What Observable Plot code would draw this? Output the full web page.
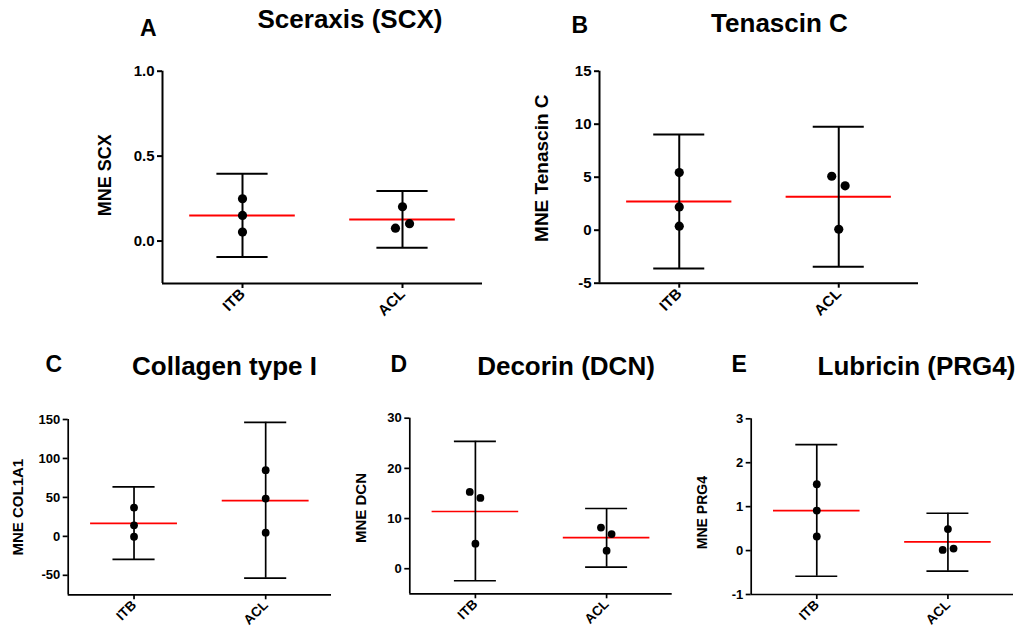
<!DOCTYPE html>
<html><head><meta charset="utf-8">
<script src="https://cdn.jsdelivr.net/npm/d3@7"></script>
<script src="https://cdn.jsdelivr.net/npm/@observablehq/plot@0.6"></script>
<style>
body{margin:0;background:#fff;}
#root{position:relative;width:1025px;height:628px;overflow:hidden;font-family:"Liberation Sans",Arial,sans-serif;}
.lab{position:absolute;font-weight:bold;line-height:1;white-space:nowrap;color:#000;}
.ttl{position:absolute;font-weight:bold;line-height:1;white-space:nowrap;color:#000;width:400px;text-align:center;font-size:26px;}
.panel{position:absolute;}
</style></head><body><div id="root"></div>
<script>
// ---------- data ----------
const groups = ["ITB", "ACL"];
const groupPos = [1, 2];

// A: Sceraxis (SCX)
const scxITB = [0.249, 0.151, 0.053];
const scxACL = [0.202, 0.076, 0.102];
const scxJitITB = [0, 0, 0];
const scxJitACL = [0, -0.044, 0.044];
const scxMean = [0.151, 0.127];
const scxLow = [-0.094, -0.039];
const scxHigh = [0.396, 0.294];
const scxTicks = [0, 0.5, 1.0];

// B: Tenascin C
const tncITB = [5.44, 2.2, 0.38];
const tncACL = [5.09, 4.19, 0.09];
const tncJitITB = [0, 0, 0];
const tncJitACL = [-0.044, 0.04, 0];
const tncMean = [2.7, 3.15];
const tncLow = [-3.61, -3.45];
const tncHigh = [9.03, 9.75];
const tncTicks = [-5, 0, 5, 10, 15];

// C: Collagen type I
const colITB = [36.9, 14.2, -0.5];
const colACL = [85, 48.5, 4.7];
const colJitITB = [0, 0, 0];
const colJitACL = [0, 0, 0];
const colMean = [16.8, 45.9];
const colLow = [-29.6, -53.7];
const colHigh = [63.5, 146.4];
const colTicks = [-50, 0, 50, 100, 150];

// D: Decorin (DCN)
const dcnITB = [15.3, 14.1, 5.0];
const dcnACL = [8.2, 6.9, 3.6];
const dcnJitITB = [-0.043, 0.038, 0];
const dcnJitACL = [-0.043, 0.038, 0];
const dcnMean = [11.4, 6.2];
const dcnLow = [-2.4, 0.3];
const dcnHigh = [25.4, 12.0];
const dcnTicks = [0, 10, 20, 30];

// E: Lubricin (PRG4)
const prgITB = [1.51, 0.91, 0.32];
const prgACL = [0.49, 0.015, 0.045];
const prgJitITB = [0, 0, 0];
const prgJitACL = [0, -0.04, 0.043];
const prgMean = [0.91, 0.198];
const prgLow = [-0.585, -0.47];
const prgHigh = [2.41, 0.85];
const prgTicks = [-1, 0, 1, 2, 3];

// ---------- layout ----------
const root = document.getElementById("root");
const meanHalf = 0.33, capHalf = 0.16;

function panel(cfg) {
  const pts = [];
  [cfg.itb, cfg.acl].forEach((vals, i) => vals.forEach((v, k) =>
    pts.push({pos: groupPos[i], value: v, jit: cfg.jit[i][k]})));
  const summ = groups.map((g, i) => ({pos: groupPos[i], mean: cfg.mean[i], low: cfg.low[i], high: cfg.high[i]}));
  const lw = cfg.lw;
  const svg = Plot.plot({
    width: cfg.w, height: cfg.h,
    marginLeft: cfg.m[0], marginRight: cfg.m[1], marginTop: cfg.m[2], marginBottom: cfg.m[3],
    x: {domain: [0.5, 2.5]},
    y: {domain: cfg.domain},
    style: {fontFamily: '"Liberation Sans", Arial, sans-serif', background: "transparent", overflow: "visible", color: "black"},
    marks: [
      Plot.ruleY(summ, {y: "mean", x1: d => d.pos - meanHalf, x2: d => d.pos + meanHalf, stroke: "#ff0000", strokeWidth: lw}),
      Plot.ruleX(summ, {x: "pos", y1: "low", y2: "high", stroke: "black", strokeWidth: lw}),
      Plot.ruleY(summ, {y: "high", x1: d => d.pos - capHalf, x2: d => d.pos + capHalf, stroke: "black", strokeWidth: lw}),
      Plot.ruleY(summ, {y: "low", x1: d => d.pos - capHalf, x2: d => d.pos + capHalf, stroke: "black", strokeWidth: lw}),
      Plot.dot(pts, {x: d => d.pos + d.jit, y: "value", r: cfg.r, fill: "black", stroke: "none"}),
      Plot.ruleX([0.5], {stroke: "black", strokeWidth: lw}),
      Plot.ruleY([cfg.domain[0]], {stroke: "black", strokeWidth: lw}),
      Plot.axisY({ticks: cfg.ticks, tickFormat: cfg.fmt, tickSize: 5, tickPadding: 3, strokeWidth: lw,
        fontSize: cfg.tf, fontWeight: "bold", label: null}),
      Plot.axisX({ticks: groupPos, tickFormat: i => groups[i - 1], tickRotate: -45, tickSize: 5, tickPadding: 3,
        strokeWidth: lw, fontSize: cfg.txf, fontWeight: "bold", label: null}),
      Plot.text([cfg.label], {frameAnchor: "left", textAnchor: "middle", lineAnchor: "middle", text: d => d,
        rotate: -90, dx: cfg.ldx, dy: cfg.ldy, fontSize: cfg.lf, fontWeight: "bold"})
    ]
  });
  const div = document.createElement("div");
  div.className = "panel";
  div.style.left = cfg.left + "px";
  div.style.top = cfg.top + "px";
  div.appendChild(svg);
  root.appendChild(div);

  const letter = document.createElement("div");
  letter.className = "lab";
  letter.textContent = cfg.letter;
  letter.style.fontSize = "23px";
  letter.style.left = cfg.letterXY[0] + "px";
  letter.style.top = cfg.letterXY[1] + "px";
  root.appendChild(letter);

  const ttl = document.createElement("div");
  ttl.className = "ttl";
  ttl.textContent = cfg.title;
  ttl.style.left = (cfg.titleXY[0] - 200) + "px";
  ttl.style.top = cfg.titleXY[1] + "px";
  root.appendChild(ttl);
}

const num = d => String(d);

panel({letter: "A", title: "Sceraxis (SCX)", label: "MNE SCX",
  itb: scxITB, acl: scxACL, jit: [scxJitITB, scxJitACL], mean: scxMean, low: scxLow, high: scxHigh,
  domain: [-0.25, 1.0], ticks: scxTicks, fmt: d3.format(".1f"),
  left: 80, top: 40, w: 420, h: 290, m: [82, 18, 30.7, 47], lw: 2, r: 4.6, tf: 15, txf: 15, lf: 18, ldx: -57, ldy: -2,
  letterXY: [140, 16.5], titleXY: [350, 6]});

panel({letter: "B", title: "Tenascin C", label: "MNE Tenascin C",
  itb: tncITB, acl: tncACL, jit: [tncJitITB, tncJitACL], mean: tncMean, low: tncLow, high: tncHigh,
  domain: [-5, 15], ticks: tncTicks, fmt: num,
  left: 530, top: 40, w: 400, h: 290, m: [69, 12, 30.7, 47.3], lw: 2, r: 4.6, tf: 15, txf: 15, lf: 19, ldx: -58, ldy: -9,
  letterXY: [571.5, 13.5], titleXY: [779.5, 10]});

panel({letter: "C", title: "Collagen type I", label: "MNE COL1A1",
  itb: colITB, acl: colACL, jit: [colJitITB, colJitACL], mean: colMean, low: colLow, high: colHigh,
  domain: [-75, 150], ticks: colTicks, fmt: num,
  left: 0, top: 390, w: 345, h: 238, m: [67.7, 14, 29, 33.7], lw: 1.7, r: 3.9, tf: 13, txf: 13.5, lf: 15, ldx: -50, ldy: 0,
  letterXY: [45.5, 352.5], titleXY: [224.5, 353]});

panel({letter: "D", title: "Decorin (DCN)", label: "MNE DCN",
  itb: dcnITB, acl: dcnACL, jit: [dcnJitITB, dcnJitACL], mean: dcnMean, low: dcnLow, high: dcnHigh,
  domain: [-5, 30], ticks: dcnTicks, fmt: num,
  left: 340, top: 390, w: 340, h: 238, m: [69.3, 8.3, 27.7, 34.7], lw: 1.7, r: 3.9, tf: 13, txf: 13.5, lf: 15, ldx: -49, ldy: 2,
  letterXY: [390.5, 352.5], titleXY: [566, 353]});

panel({letter: "E", title: "Lubricin (PRG4)", label: "MNE PRG4",
  itb: prgITB, acl: prgACL, jit: [prgJitITB, prgJitACL], mean: prgMean, low: prgLow, high: prgHigh,
  domain: [-1, 3], ticks: prgTicks, fmt: num,
  left: 680, top: 390, w: 345, h: 238, m: [70.7, 12, 28.3, 34], lw: 1.7, r: 3.9, tf: 13, txf: 13.5, lf: 14, ldx: -49, ldy: 6,
  letterXY: [731.5, 352.5], titleXY: [916.5, 353]});
</script>
</body></html>
